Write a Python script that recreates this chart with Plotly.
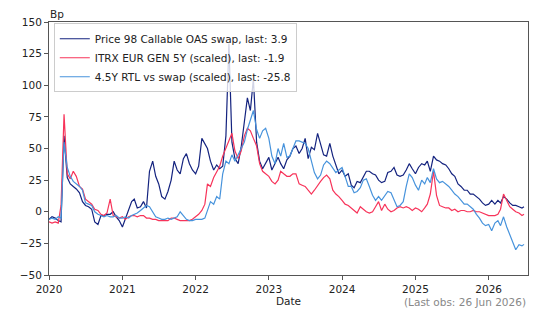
import pandas as pd
import plotly.graph_objects as go

# Half-monthly observation dates, Jan 2020 .. Jun 2026 (+ last obs)
dates = [f"{y}-{m:02d}-{d:02d}" for y in range(2020, 2027) for m in range(1, 13) for d in (1, 16)]
dates = [d for d in dates if d <= "2026-06-16"] + ["2026-06-26"]

price98_oas = [
    -6, -4, -5, -7, -8, 60, 27, 22, 20, 18, 15, 8, 5, 4, 2, -8, -10, -3, -3, -2,
    -2, 0, -4, -7, -12, -5, 2, 8, 10, 3, 4, 8, 3, 32, 40, 28, 22, 12, 10, 16,
    25, 40, 33, 30, 42, 46, 38, 33, 30, 36, 58, 54, 50, 40, 33, 37, 34, 36, 60, 133,
    55, 42, 38, 51, 70, 90, 80, 105, 55, 40, 34, 38, 43, 33, 38, 43, 38, 34, 41, 44,
    50, 52, 46, 50, 58, 42, 51, 49, 62, 54, 45, 44, 54, 44, 36, 30, 33, 28, 30, 21,
    19, 24, 23, 27, 32, 32, 30, 29, 25, 23, 24, 31, 32, 35, 29, 28, 29, 33, 38, 34,
    30, 35, 38, 37, 40, 32, 44, 41, 40, 38, 37, 34, 30, 28, 22, 20, 17, 17, 14, 14,
    12, 10, 7, 5, 6, 9, 6, 9, 7, 12, 10, 7, 5, 5, 4, 3, 3.9,
]
itrx_eur_gen_5y = [
    -8, -9, -8, -9, 5, 77, 30, 26, 32, 28, 20, 18, 10, 8, 6, 2, 1, -2, -3, -1,
    10, -3, -4, -5, -4, -6, -4, -3, -3, -4, -3, -3, -5, -5, -6, -6, -7, -7, -7, -7,
    -5, -5, -6, -7, -7, -7, -7, -6, -4, -2, 1, 6, 22, 20, 27, 32, 36, 44, 50, 55,
    62, 48, 42, 48, 60, 66, 64, 58, 52, 38, 32, 30, 28, 24, 22, 25, 32, 30, 28, 28,
    30, 30, 22, 21, 20, 17, 14, 17, 21, 24, 27, 29, 26, 17, 14, 12, 9, 6, 5, 3,
    1, -1, 4, 2, 0, -1, 0, 4, 8, 1, 6, 2, 0, 1, 3, 4, 3, 4, 3, 1,
    3, 2, 0, 3, 6, 14, 32, 13, 5, 4, 3, 3, 1, 2, 0, 1, 1, 0, 0, 1,
    0, 0, -1, -2, -3, -3, -3, -2, 2, 14, 9, 4, 2, 0, -1, -3, -1.9,
]
rtl_vs_swap = [
    -6, -5, -6, -4, -5, 55, 35, 28, 24, 22, 20, 17, 7, 6, 5, 0, -2, -3, -4, -3,
    -4, -4, -3, -5, -5, -4, -5, -3, -2, -1, 1, 3, 5, 4, 0, -4, -5, -6, -6, -5,
    -6, -5, -4, 0, -3, -6, -7, -7, -6, -6, -6, -5, 1, 8, 6, 12, 10, 30, 40, 38,
    45, 40, 45, 50, 55, 65, 72, 80, 65, 58, 64, 66, 58, 44, 38, 50, 44, 54, 43, 44,
    50, 56, 56, 55, 54, 50, 41, 31, 26, 29, 37, 40, 38, 34, 31, 33, 35, 28, 20, 20,
    15, 16, 19, 25, 26, 20, 13, 9, 12, 9, 13, 16, 15, 10, 4, 5, 8, 20, 30, 27,
    21, 17, 25, 22, 27, 23, 34, 26, 23, 24, 22, 20, 17, 14, 12, 9, 6, 6, 4, 2,
    -2, -5, -9, -11, -10, -15, -9, -7, -11, -4, -12, -18, -23, -30, -26, -27, -25.8,
]

series_names = [
    "Price 98 Callable OAS swap, last: 3.9",
    "ITRX EUR GEN 5Y (scaled), last: -1.9",
    "4.5Y RTL vs swap (scaled), last: -25.8",
]
series_colors = ["#14237f", "#f7345a", "#4793dc"]
x_ticks = [f"{y}-01-01" for y in range(2020, 2027)]
x_tick_labels = [str(y) for y in range(2020, 2027)]
y_ticks = [-50, -25, 0, 25, 50, 75, 100, 125, 150]

FS = 10.5
x = pd.to_datetime(dates)
fig = go.Figure()
for name, vals, col in zip(series_names, [price98_oas, itrx_eur_gen_5y, rtl_vs_swap], series_colors):
    fig.add_trace(go.Scatter(x=x, y=vals, mode="lines", name=name,
                             line=dict(color=col, width=1.2)))

axis_common = dict(showline=True, linecolor="#555555", linewidth=1, mirror=True,
                   ticks="outside", ticklen=4, tickcolor="#555555", showgrid=False,
                   zeroline=False, automargin=False, tickfont=dict(size=FS, color="#222222"))
fig.update_layout(
    width=544, height=314,
    margin=dict(l=49, r=16, t=22, b=39, autoexpand=False),
    paper_bgcolor="white", plot_bgcolor="white",
    font=dict(family="DejaVu Sans", size=FS, color="#222222"),
    xaxis=dict(range=["2020-01-01", "2026-07-16"], tickvals=x_ticks, ticktext=x_tick_labels,
               title=dict(text="Date", font=dict(size=FS), standoff=3), **axis_common),
    yaxis=dict(range=[-50, 150], tickvals=y_ticks, **axis_common),
    legend=dict(x=0.01, y=0.995, xanchor="left", yanchor="top",
                bgcolor="rgba(255,255,255,0.8)", bordercolor="#cccccc", borderwidth=1,
                font=dict(size=FS, color="#222222"), tracegroupgap=0, itemwidth=30),
    showlegend=True,
)
fig.add_annotation(text="Bp", xref="paper", yref="paper", x=0, y=1, yanchor="bottom",
                   xanchor="left", showarrow=False, font=dict(size=FS, color="#222222"),
                   xshift=-1, yshift=0)
fig.add_annotation(text="(Last obs: 26 Jun 2026)", xref="paper", yref="paper", x=1, y=0,
                   xanchor="right", yanchor="top", yshift=-19, showarrow=False,
                   font=dict(size=FS, color="#888888"))
fig.write_html("out.html", config={"displayModeBar": False},
               post_script="document.body.style.margin='0';document.body.style.overflow='hidden';")
